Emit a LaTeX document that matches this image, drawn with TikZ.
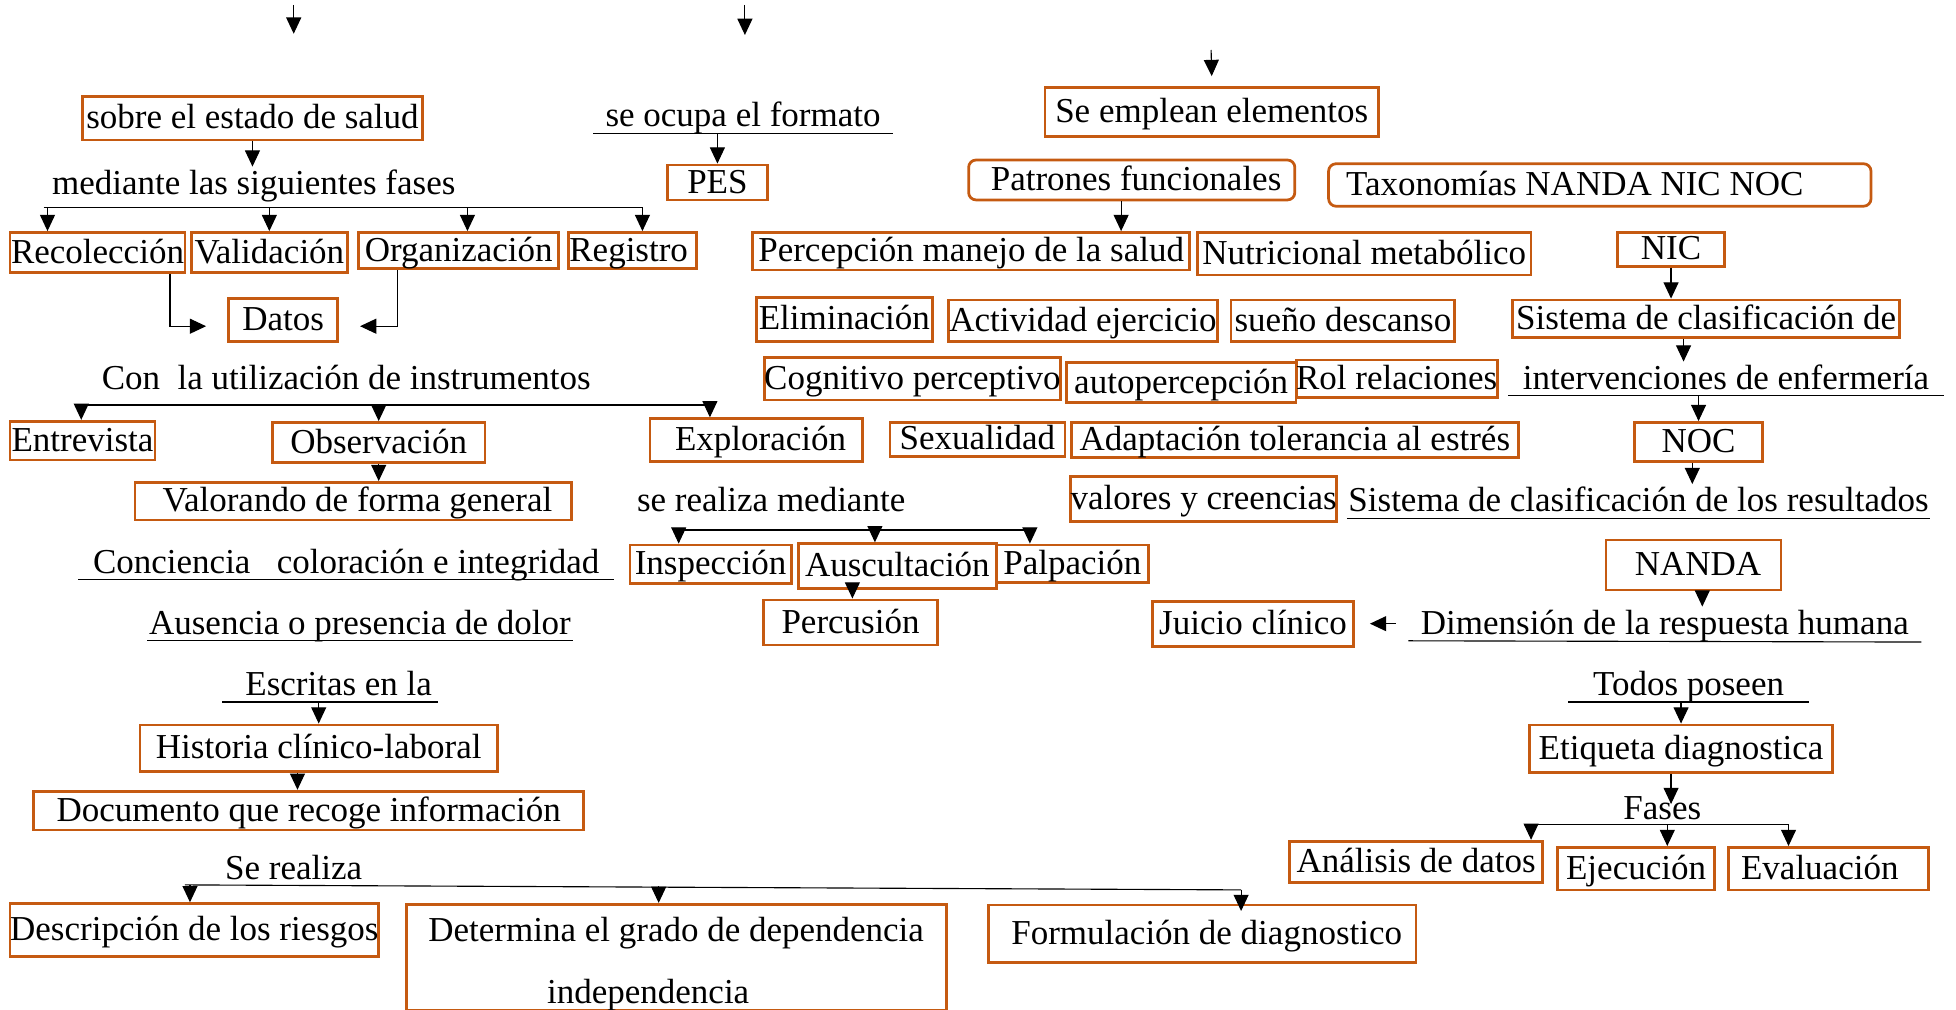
\documentclass[tikz,border=0pt]{standalone}
\usepackage{fontspec}
\setmainfont{Liberation Serif}
\usepackage{tikz}
\usetikzlibrary{arrows.meta}
\definecolor{orng}{RGB}{197,90,17}

\begin{document}
\begin{tikzpicture}[x=1pt,y=1pt,yscale=-1,xscale=1,
  txt/.style={inner sep=1pt,text height=21pt,text depth=4pt,font=\fontsize{28}{32}\selectfont},
  bx/.style={txt,draw=orng,line width=2.2pt,inner sep=0pt},
  rbx/.style={bx,rounded corners=6pt},
  arr/.style={-{Triangle[length=13pt,width=12pt]},line width=0.9pt},
  ln/.style={line width=0.9pt}]
%set diagram size
\useasboundingbox (0,0) rectangle (1565,808);

% Top arrows
\coordinate (ta1) at (235,4); \coordinate (tb1) at (235,27);
\coordinate (ta2) at (596,4); \coordinate (tb2) at (596,28);
\coordinate (ta3) at (969,40);
\draw[arr] (ta1) -- (tb1);
\draw[arr] (ta2) -- (tb2);

% Text Node
\node[bx,minimum width=272pt,minimum height=35pt] (sobre) at (202,94.5) {sobre el estado de salud};
% Text Node
\node[txt,minimum width=239pt] (fmt) at (594.5,93) {se ocupa el formato};
% Text Node
\node[bx,minimum width=267pt,minimum height=39pt] (emp) at (969.5,89.5) {Se emplean elementos};
% Text Node
\node[txt] (med) at (203,147) {mediante las siguientes fases};
% Text Node
\node[bx,minimum width=80pt,minimum height=28pt] (pes) at (574,146) {PES};
% Text Node
\node[rbx,minimum width=261pt,minimum height=32pt] (pat) at (905.5,144) {\ Patrones funcionales};
% Text Node
\node[rbx,minimum width=434pt,minimum height=34pt] (tax) at (1280,148) {Taxonomías NANDA NIC NOC\hspace*{40pt}};

% Text Node
\node[bx,minimum width=140pt,minimum height=32pt] (rec) at (78,202) {Recolección};
\node[bx,minimum width=125pt,minimum height=32pt] (vld) at (215.5,202) {Validación};
\node[bx,minimum width=160pt,minimum height=29pt] (org) at (367,200.5) {Organización};
\node[bx,minimum width=102pt,minimum height=29pt] (reg) at (506,200.5) {Registro\hspace*{6pt}};
\node[bx,minimum width=350pt,minimum height=30pt] (per) at (777,201) {Percepción manejo de la salud};
\node[bx,minimum width=267pt,minimum height=34pt] (nut) at (1091.5,203) {Nutricional metabólico};
\node[bx,minimum width=86pt,minimum height=27pt] (nic) at (1337,199.5) {NIC};

% Text Node
\node[bx,minimum width=87pt,minimum height=34pt] (dat) at (226.5,256) {Datos};
\node[bx,minimum width=141pt,minimum height=35pt] (eli) at (675.5,255.5) {Eliminación};
\node[bx,minimum width=215pt,minimum height=33pt] (act) at (866.5,256.5) {Actividad ejercicio};
\node[bx,minimum width=179pt,minimum height=33pt] (sue) at (1074.5,256.5) {sueño descanso};
\node[bx,minimum width=310pt,minimum height=30pt] (sis) at (1365,255) {Sistema de clasificación de};

% Text Node
\node[txt] (con) at (277,303) {Con\ \ la utilización de instrumentos};
\node[bx,minimum width=236pt,minimum height=34pt] (cog) at (730,303) {Cognitivo perceptivo};
\node[bx,minimum width=184pt,minimum height=32pt] (aut) at (945,306) {autopercepción};
\node[bx,minimum width=155pt,minimum height=30pt] (rol) at (1117.5,303) {Rol relaciones};
\node[txt,minimum width=348pt] (int) at (1381,303) {intervenciones de enfermería};

% Text Node
\node[bx,minimum width=116pt,minimum height=31pt] (ent) at (66,352.5) {Entrevista};
\node[bx,minimum width=170pt,minimum height=32pt] (obs) at (303,354) {Observación};
\node[bx,minimum width=170pt,minimum height=34pt] (exp) at (605,352) {\ Exploración};
\node[bx,minimum width=140pt,minimum height=27pt] (sex) at (782,351.5) {Sexualidad};
\node[bx,minimum width=358pt,minimum height=28pt] (ada) at (1036,352) {Adaptación tolerancia al estrés};
\node[bx,minimum width=102pt,minimum height=31pt] (noc) at (1359,353.5) {NOC};

% Text Node
\node[bx,minimum width=349pt,minimum height=30pt] (vlr) at (282.5,401) {\ Valorando de forma general};
\node[txt] (srm) at (617,401) {se realiza mediante};
\node[bx,minimum width=212pt,minimum height=36pt] (cre) at (963,399) {valores y creencias};
\node[txt,minimum width=466pt] (res) at (1311,401) {Sistema de clasificación de los resultados};

% Text Node
\node[txt,minimum width=428pt] (cnc) at (277,450) {Conciencia\ \ \ coloración e integridad};
\node[bx,minimum width=129pt,minimum height=31pt] (ins) at (568.5,451.5) {Inspección};
\node[bx,minimum width=158pt,minimum height=36pt] (aus) at (718,453) {Auscultación};
\node[bx,minimum width=122pt,minimum height=30pt] (pal) at (858,451) {Palpación};
\node[bx,minimum width=140pt,minimum height=40pt] (nan) at (1355,452) {\ NANDA};

% Text Node
\node[txt,minimum width=340pt] (aus2) at (288,499) {Ausencia o presencia de dolor};
\node[bx,minimum width=139pt,minimum height=36pt] (prc) at (680.5,498) {Percusión};
\node[bx,minimum width=161pt,minimum height=36pt] (jui) at (1002.5,499) {Juicio clínico};
\node[txt,minimum width=410pt] (dim) at (1332,499) {Dimensión de la respuesta humana};

% Text Node
\node[txt,minimum width=172pt] (esc) at (264,548) {\ \ Escritas en la};
\node[txt,minimum width=192pt] (tod) at (1351,548) {Todos poseen};
\node[bx,minimum width=286pt,minimum height=37pt] (his) at (255,598.5) {Historia clínico-laboral};
\node[bx,minimum width=242pt,minimum height=38pt] (eti) at (1345,599) {Etiqueta diagnostica};
\node[bx,minimum width=440pt,minimum height=31pt] (doc) at (247,648.5) {Documento que recoge información};
\node[txt] (fas) at (1330,647) {Fases};

% Text Node
\node[txt] (srz) at (235,695) {Se realiza};
\node[bx,minimum width=202pt,minimum height=33pt] (ana) at (1133,689.5) {Análisis de datos};
\node[bx,minimum width=126pt,minimum height=34pt] (eje) at (1309,695) {Ejecución};
\node[bx,minimum width=160pt,minimum height=34pt] (eva) at (1463,695) {Evaluación\hspace*{14pt}};
\node[bx,minimum width=295pt,minimum height=42pt] (des) at (155.5,744) {Descripción de los riesgos};
\node[bx,minimum width=432pt,minimum height=84pt,align=left,text height=,text depth=] (det) at (541,766)
  {\rule{0pt}{30pt}Determina el grado de dependencia\\[17pt]\hspace*{95pt}independencia};
\node[bx,minimum width=342pt,minimum height=46pt] (for) at (962,747) {\ Formulación de diagnostico};

%Straight Lines (underlines)
\draw[ln] (fmt.south west) -- (fmt.south east);
\draw[ln] (int.south west) -- (int.south east);
\draw[ln] (res.south west) -- (res.south east);
\draw[ln] (cnc.south west) -- (cnc.south east);
\draw[ln] (aus2.south west) -- (aus2.south east);
\draw[ln] (dim.south west) -- ([yshift=1pt]dim.south east);
\draw[ln] (esc.south west) -- (esc.south east);
\draw[ln] (tod.south west) -- (tod.south east);

%Straight Lines (branches)
\coordinate (fz1) at (38,166); \coordinate (fz2) at (514,166);
\draw[ln] ([xshift=-3pt]fz1) -- (fz2);
\coordinate (cu1) at (65,324); \coordinate (cu2) at (568,324);
\draw[ln] ([xshift=-3pt]cu1) -- (cu2);
\coordinate (sr1) at (543,424); \coordinate (sr2) at (824,424); \coordinate (sr3) at (700,424);
\draw[ln] (sr1) -- (sr2);
\coordinate (fa1) at (1225,660); \coordinate (fa2) at (1431,660); \coordinate (fa3) at (1334,660);
\draw[ln] (fa1) -- (fa2);
\coordinate (sz1) at (152,708); \coordinate (sz2) at (993,712); \coordinate (sz3) at (527,709);
\draw[ln] ([xshift=-4pt]sz1) -- (sz2);

%Arrows (yshift runs down here, as yscale=-1)
\draw[arr] (ta3) -- ([yshift=-8pt]emp.north);
\draw[arr] (sobre.south) -- (sobre.south |- med.north);
\draw[arr] (pes.north |- fmt.south) -- (pes.north);
\draw[arr] ([xshift=-8.5pt]pat.south) -- ([xshift=-8.5pt]pat.south |- per.north);
\draw[arr] (fz1) -- (fz1 |- rec.north);
\draw[arr] (vld.north |- fz1) -- (vld.north);
\draw[arr] ([xshift=7pt]org.north |- fz1) -- ([xshift=7pt]org.north);
\draw[arr] (fz2) -- (fz2 |- reg.north);
\draw[arr] ([xshift=58pt]rec.south) |- ([xshift=-17pt,yshift=5pt]dat.west);
\draw[arr] ([xshift=-49pt]org.south) |- ([xshift=17pt,yshift=5pt]dat.east);
\draw[arr] (nic.south) -- (nic.south |- sis.north);
\draw[arr] ([xshift=-18pt]sis.south) -- ([xshift=-18pt]sis.south |- int.north);
\draw[arr] (cu1) -- (cu1 |- ent.north);
\draw[arr] (obs.north |- cu1) -- (obs.north);
\draw[arr] (cu2) -- (cu2 |- exp.north);
\draw[arr] (obs.south) -- (obs.south |- vlr.north);
\draw[arr] (noc.north |- int.south) -- (noc.north);
\draw[arr] ([xshift=-5pt]noc.south) -- ([xshift=-5pt]noc.south |- res.north);
\draw[arr] (sr1) -- (sr1 |- ins.north);
\draw[arr] (sr3) -- (sr3 |- aus.north);
\draw[arr] (sr2) -- (sr2 |- pal.north);
\draw[arr] ([xshift=-36pt]aus.south) -- ([xshift=1.5pt]prc.north);
\draw[arr] ([xshift=7pt]nan.south) -- ([xshift=7pt]nan.south |- dim.north);
\draw[arr] ([xshift=-10pt]dim.west) -- ([xshift=12pt]jui.east);
\draw[arr] (his.north |- esc.south) -- (his.north);
\draw[arr] ([xshift=-17pt]his.south) -- ([xshift=-17pt]his.south |- doc.north);
\draw[arr] (eti.north |- tod.south) -- (eti.north);
\draw[arr] ([xshift=-8pt]eti.south) -- ([xshift=7pt,yshift=10pt]fas.north);
\draw[arr] (fa1) -- (fa1 |- ana.north);
\draw[arr] (fa3) -- (fa3 |- eje.north);
\draw[arr] (fa2) -- (fa2 |- eva.north);
\draw[arr] (sz1) -- (sz1 |- des.north);
\draw[arr] (sz3) -- (sz3 |- det.north);
\draw[arr] (sz2) -- ([yshift=6pt]sz2 |- for.north);

\end{tikzpicture}
\end{document}
